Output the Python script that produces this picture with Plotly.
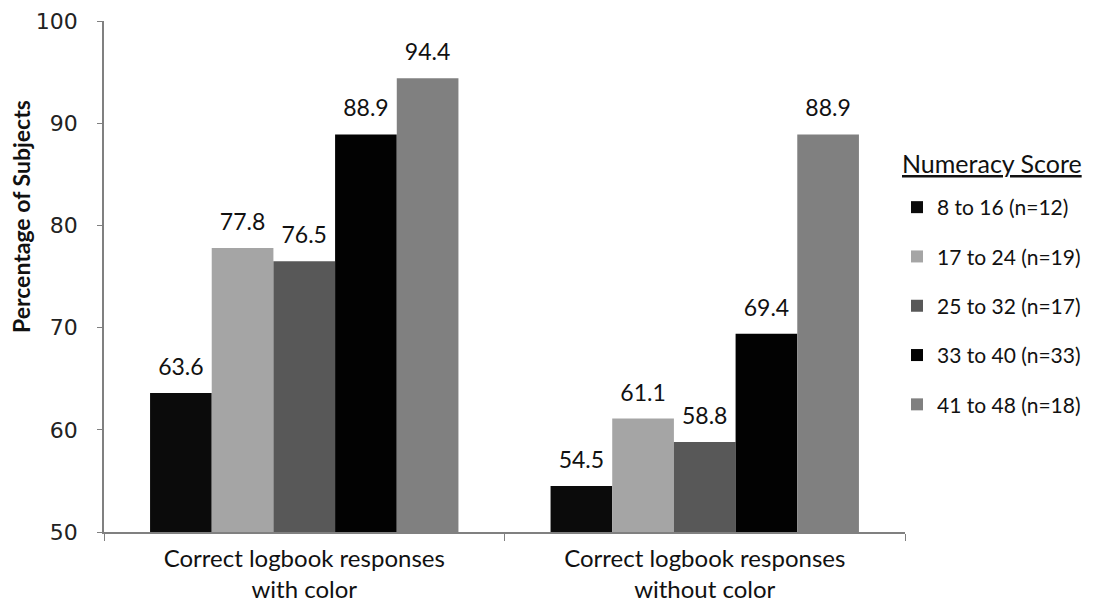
import plotly.graph_objects as go

categories = ["Correct logbook responses<br>with color", "Correct logbook responses<br>without color"]
series_names = ["8 to 16 (n=12)", "17 to 24 (n=19)", "25 to 32 (n=17)", "33 to 40 (n=33)", "41 to 48 (n=18)"]
series_values = [
    [63.6, 54.5],
    [77.8, 61.1],
    [76.5, 58.8],
    [88.9, 69.4],
    [94.4, 88.9],
]
series_colors = ["#0b0b0b", "#a5a5a5", "#585858", "#020202", "#808080"]
y_ticks = [50, 60, 70, 80, 90, 100]
legend_title = "Numeracy Score"
y_title = "Percentage of Subjects"

# plot area (figure px): left 96, right 897, top 13, bottom 524
PW, PH = 801, 511

fig = go.Figure()
for i, (name, vals, col) in enumerate(zip(series_names, series_values, series_colors)):
    fig.add_trace(go.Bar(
        x=categories, y=vals, name=name,
        marker=dict(color=col, line=dict(width=0)),
        legendgroup=f"g{i}", hoverinfo="x+y+name",
    ))
for i, vals in enumerate(series_values):
    fig.add_trace(go.Scatter(
        x=categories, y=vals, mode="markers+text",
        marker=dict(size=18, opacity=0),
        text=[f"{v:.1f}" for v in vals], textposition="top center",
        textfont=dict(family="Lato", size=23, color="#111"),
        showlegend=False, hoverinfo="skip", cliponaxis=False,
    ))

fig.add_annotation(
    text=f"<u>{legend_title}</u>", xref="paper", yref="paper",
    x=1.0, xshift=-5, y=(524 - 155) / PH, xanchor="left", yanchor="middle",
    showarrow=False, font=dict(family="Lato", size=25, color="#111"),
)
fig.add_annotation(
    text=f"<b>{y_title}</b>", xref="paper", yref="paper",
    x=(13 - 96) / PW, y=(524 - 209) / PH, xanchor="center", yanchor="middle",
    textangle=-90, showarrow=False, font=dict(family="Lato", size=23, color="#111"),
)

fig.update_layout(
    width=1095, height=605,
    margin=dict(l=96, r=198, t=13, b=81, autoexpand=False),
    paper_bgcolor="white", plot_bgcolor="white",
    barmode="group", bargap=0.23, bargroupgap=0,
    scattermode="group", scattergap=0.23,
    font=dict(family="Lato", color="#111"),
    showlegend=True,
    legend=dict(
        font=dict(family="Lato", size=21, color="#111"),
        x=1.0 - 8 / PW, xanchor="left", y=(524 - 179) / PH, yanchor="top",
        tracegroupgap=19, itemwidth=30,
        bgcolor="rgba(0,0,0,0)",
    ),
    xaxis=dict(
        showline=True, linecolor="#808080", linewidth=1.5,
        ticks="outside", tickson="boundaries", ticklen=7, tickcolor="#808080",
        ticklabelstandoff=4,
        tickfont=dict(family="Lato", size=24, color="#111"),
        showgrid=False, automargin=False,
    ),
    yaxis=dict(
        range=[50, 100], tickvals=y_ticks,
        showline=True, linecolor="#808080", linewidth=1.5,
        ticks="outside", ticklen=5, tickcolor="#808080",
        ticklabelstandoff=15,
        tickfont=dict(family="DejaVu Sans", size=22, color="#222"),
        showgrid=False, zeroline=False, automargin=False,
    ),
)

fig.write_html("out.html")
